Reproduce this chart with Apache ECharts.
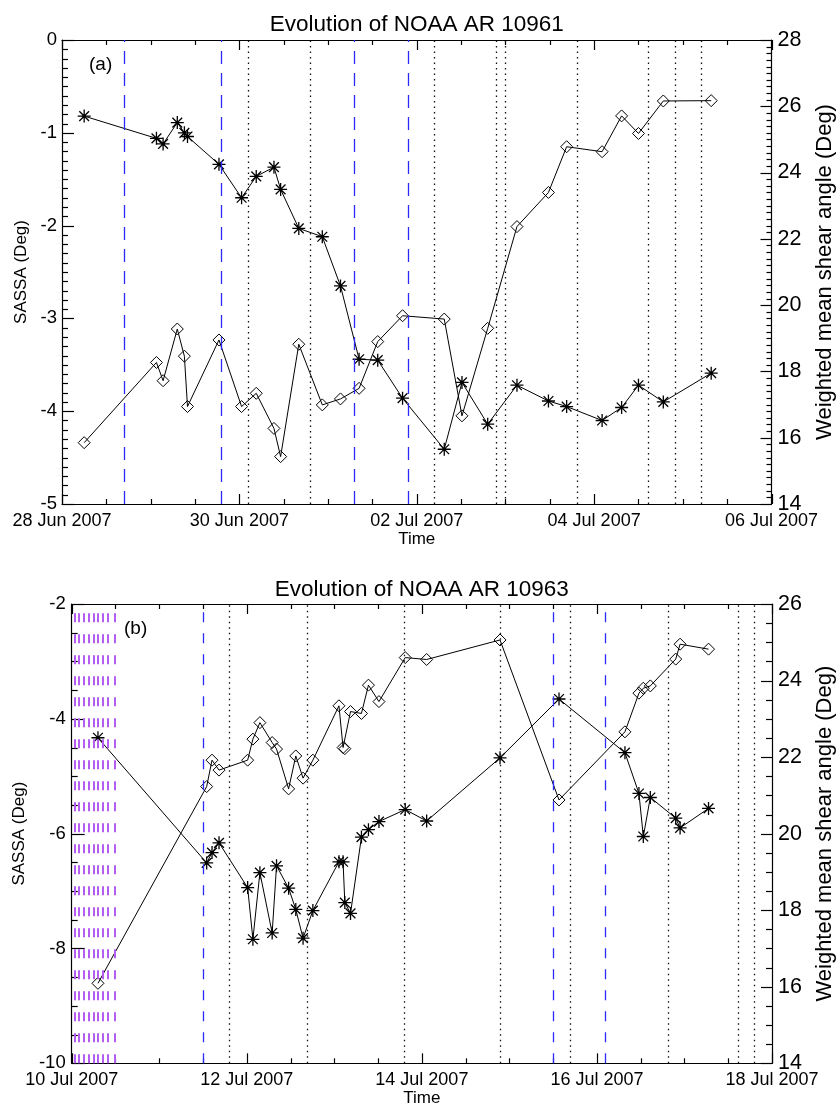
<!DOCTYPE html>
<html><head><meta charset="utf-8">
<script src="https://cdn.jsdelivr.net/npm/echarts@6/dist/echarts.min.js"></script>
<style>html,body{margin:0;padding:0;background:#fff}#c{width:837px;height:1107px}</style>
</head><body><div id="c"></div>
<script>
const FONT = '"Liberation Sans", Arial, Helvetica, sans-serif';

// ---------- Panel (a): NOAA AR 10961 ; time = days since 28 Jun 2007 00:00 UT
const timeA  = [0.25, 1.065, 1.14, 1.30, 1.38, 1.415, 1.77, 2.025, 2.19, 2.39,
                2.465, 2.67, 2.935, 3.14, 3.35, 3.56, 3.84, 4.31, 4.51, 4.80,
                5.13, 5.485, 5.69, 6.09, 6.31, 6.50, 6.78, 7.32];
const sassaA = [-0.82, -1.06, -1.12, -0.89, -1.00, -1.04, -1.34, -1.70, -1.47, -1.37,
                -1.61, -2.03, -2.12, -2.65, -3.44, -3.45, -3.86, -4.41, -3.69, -4.14,
                -3.72, -3.89, -3.95, -4.10, -3.96, -3.72, -3.90, -3.59];
const shearA = [15.85, 18.27, 17.72, 19.28, 18.46, 16.94, 18.95, 16.94, 17.34, 16.28,
                15.43, 18.82, 16.99, 17.17, 17.49, 18.90, 19.68, 19.58, 16.66, 19.30,
                22.37, 23.40, 24.78, 24.63, 25.71, 25.18, 26.16, 26.17];
const blueLinesA   = [0.696, 1.80, 3.30, 3.90];
const dottedLinesA = [2.10, 2.80, 4.20, 4.90, 5.005, 5.806, 6.61, 6.91, 7.21];
const xTicksA = ['28 Jun 2007', '30 Jun 2007', '02 Jul 2007', '04 Jul 2007', '06 Jul 2007'];

// ---------- Panel (b): NOAA AR 10963 ; time = days since 10 Jul 2007 00:00 UT
const timeB  = [0.30, 1.542, 1.603, 1.683, 2.01, 2.07, 2.15, 2.29, 2.34, 2.478,
                2.56, 2.643, 2.755, 3.053, 3.10, 3.12, 3.185, 3.31, 3.39, 3.51,
                3.81, 4.055, 4.893, 5.567, 6.32, 6.48, 6.53, 6.61, 6.90, 6.95, 7.275];
const sassaB = [-4.33, -6.51, -6.33, -6.16, -6.94, -7.84, -6.68, -7.73, -6.56, -6.95,
                -7.32, -7.82, -7.34, -6.49, -6.49, -7.20, -7.39, -6.06, -5.93, -5.79,
                -5.58, -5.78, -4.68, -3.655, -4.59, -5.30, -6.05, -5.37, -5.73, -5.90, -5.56];
const shearB = [16.09, 21.23, 21.92, 21.66, 21.92, 22.47, 22.90, 22.38, 22.21, 21.17,
                22.03, 21.45, 21.92, 23.34, 22.25, 22.22, 23.19, 23.14, 23.88, 23.45,
                24.60, 24.55, 25.06, 20.88, 22.66, 23.67, 23.80, 23.86, 24.56, 24.95, 24.82];
const purpleLinesB = [0.03, 0.083, 0.137, 0.194, 0.247, 0.30, 0.354, 0.41, 0.495];
const blueLinesB   = [1.496, 5.50, 6.104];
const dottedLinesB = [1.797, 2.69, 3.80, 4.90, 5.70, 6.81, 7.61, 7.805];
const xTicksB = ['10 Jul 2007', '12 Jul 2007', '14 Jul 2007', '16 Jul 2007', '18 Jul 2007'];

const titles = ['Evolution of NOAA AR 10961', 'Evolution of NOAA AR 10963'];
const panelTags = ['(a)', '(b)'];

const ASTERISK = 'path://M0,-10L0,10M-10,0L10,0M-7.5,-7.5L7.5,7.5M-7.5,7.5L7.5,-7.5';
const BLACK = '#000';

// axis ranges: [min, max, interval, minorSplit]
const X_RANGE = [0, 8, 2, 4];
const Y_SPECS = [
  { gi: 0, pos: 'left',  range: [-5, 0, 1, 10], name: 'SASSA (Deg)', gap: 32, nameSize: 17, tick: 12, minorLen: 6, labelSize: 18.5, margin: 5 },
  { gi: 0, pos: 'right', range: [14, 28, 2, 10], name: 'Weighted mean shear angle (Deg)', gap: 42, nameSize: 22, tick: 11, minorLen: 5, labelSize: 21.5, margin: 6 },
  { gi: 1, pos: 'left',  range: [-10, -2, 2, 4], name: 'SASSA (Deg)', gap: 40, nameSize: 17, tick: 13, minorLen: 6, labelSize: 18.5, margin: 6 },
  { gi: 1, pos: 'right', range: [14, 26, 2, 4], name: 'Weighted mean shear angle (Deg)', gap: 42, nameSize: 22, tick: 11, minorLen: 6, labelSize: 21.5, margin: 6 }
];

function pairs(t, v) { return t.map((x, i) => [x, v[i]]); }

function xAxisDef(gi, pos, ticks, showLabel) {
  return {
    type: 'value', gridIndex: gi, position: pos, min: X_RANGE[0], max: X_RANGE[1], interval: X_RANGE[2],
    name: showLabel ? 'Time' : '', nameLocation: 'middle', nameGap: 27,
    nameTextStyle: { color: BLACK, fontFamily: FONT, fontSize: 17 },
    axisLine: { show: true, onZero: false, lineStyle: { color: BLACK, width: 1.2 } },
    axisTick: { show: false }, minorTick: { show: false },
    splitLine: { show: false },
    axisLabel: { show: showLabel, color: BLACK, fontFamily: FONT, fontSize: 18, margin: 8,
      formatter: v => ticks[Math.round(v / 2)] || '' }
  };
}
function yAxisDef(s) {
  return {
    type: 'value', gridIndex: s.gi, position: s.pos, min: s.range[0], max: s.range[1], interval: s.range[2],
    name: s.name, nameLocation: 'middle', nameRotate: 90, nameGap: s.gap,
    nameTextStyle: { color: BLACK, fontFamily: FONT, fontSize: s.nameSize },
    axisLine: { show: true, onZero: false, lineStyle: { color: BLACK, width: 1.2 } },
    axisTick: { show: false }, minorTick: { show: false },
    splitLine: { show: false },
    axisLabel: { color: BLACK, fontFamily: FONT, fontSize: s.labelSize, margin: s.margin }
  };
}
function vlines(vals, style) {
  return vals.map(v => ({ xAxis: v, lineStyle: style }));
}
const blueStyleA = { color: '#2a2aff', width: 1.3, type: [13, 9] };
const blueStyleB = { color: '#2a2aff', width: 1.3, type: [10, 11] };
const dotStyle   = { color: '#111', width: 1.3, type: [1.5, 4] };
const purpleStyle = { color: '#b35ef0', width: 2, type: [9, 12] };

function dataSeries(xi, yi, t, v, kind, marks) {
  const s = {
    type: 'line', xAxisIndex: xi, yAxisIndex: yi, data: pairs(t, v),
    symbol: kind === 'star' ? ASTERISK : 'diamond',
    symbolSize: kind === 'star' ? 13 : 12,
    showAllSymbol: true, silent: true,
    lineStyle: { color: BLACK, width: 1 },
    itemStyle: { color: 'transparent', borderColor: BLACK, borderWidth: kind === 'star' ? 1.3 : 1 },
    z: 3
  };
  if (marks) {
    s.markLine = { symbol: ['none', 'none'], silent: true, label: { show: false }, data: marks };
  }
  return s;
}

// ---- inward tick marks (major + minor), placed through the axes' own scales
function tickValues(r) {
  const out = [];
  for (let k = 0; r[0] + k * r[2] <= r[1] + 1e-9; k++) {
    const v = r[0] + k * r[2];
    out.push({ v, major: true });
    if (v + r[2] <= r[1] + 1e-9) for (let j = 1; j < r[3]; j++) out.push({ v: v + j * r[2] / r[3], major: false });
  }
  return out;
}
function tickSeries(xi, yi, rows) {
  return {
    type: 'custom', xAxisIndex: xi, yAxisIndex: yi, silent: true, clip: false, z: 4,
    animation: false,
    dimensions: ['x', 'y', 'dx', 'dy', 'len'], encode: { x: 0, y: 1 },
    data: rows,
    renderItem: (params, api) => {
      const p = api.coord([api.value(0), api.value(1)]);
      const dx = api.value(2), dy = api.value(3), L = api.value(4);
      let x = p[0], y = p[1];
      if (dx === 0) x = Math.round(x) + 0.5; else y = Math.round(y) + 0.5;
      return { type: 'line', silent: true,
        shape: { x1: x, y1: y, x2: x + dx * L, y2: y + dy * L },
        style: { stroke: BLACK, lineWidth: 1.2, fill: null } };
    }
  };
}
const ticksAll = [];
[0, 1].forEach(gi => {
  const yl = Y_SPECS[gi * 2], yr = Y_SPECS[gi * 2 + 1];
  const xi = gi * 2;
  const rowsX = [];
  tickValues(X_RANGE).forEach(t => {
    rowsX.push([t.v, yl.range[0], 0, -1, t.major ? 10 : 5]);
    rowsX.push([t.v, yl.range[1], 0, 1, t.major ? 10 : 5]);
  });
  ticksAll.push(tickSeries(xi, gi * 2, rowsX));
  ticksAll.push(tickSeries(xi, gi * 2, tickValues(yl.range).map(t => [X_RANGE[0], t.v, 1, 0, t.major ? yl.tick : yl.minorLen])));
  ticksAll.push(tickSeries(xi, gi * 2 + 1, tickValues(yr.range).map(t => [X_RANGE[1], t.v, -1, 0, t.major ? yr.tick : yr.minorLen])));
});

const option = {
  animation: false,
  title: [
    { text: titles[0], left: 416.8, top: 13, textAlign: 'center', padding: 0,
      textStyle: { color: BLACK, fontFamily: FONT, fontSize: 22.5, fontWeight: 'normal' } },
    { text: titles[1], left: 421.8, top: 578, textAlign: 'center', padding: 0,
      textStyle: { color: BLACK, fontFamily: FONT, fontSize: 22.5, fontWeight: 'normal' } },
    { text: panelTags[0], left: 89, top: 55, padding: 0,
      textStyle: { color: BLACK, fontFamily: FONT, fontSize: 19, fontWeight: 'normal' } },
    { text: panelTags[1], left: 124, top: 619, padding: 0,
      textStyle: { color: BLACK, fontFamily: FONT, fontSize: 19, fontWeight: 'normal' } }
  ],
  grid: [
    { left: 62, top: 40, width: 709.5, height: 464, outerBoundsMode: 'none' },
    { left: 71.7, top: 604, width: 700.3, height: 459.3, outerBoundsMode: 'none' }
  ],
  xAxis: [
    xAxisDef(0, 'bottom', xTicksA, true),
    xAxisDef(0, 'top', xTicksA, false),
    xAxisDef(1, 'bottom', xTicksB, true),
    xAxisDef(1, 'top', xTicksB, false)
  ],
  yAxis: Y_SPECS.map(yAxisDef),
  series: [
    dataSeries(0, 0, timeA, sassaA, 'star',
      vlines(blueLinesA, blueStyleA).concat(vlines(dottedLinesA, dotStyle))),
    dataSeries(0, 1, timeA, shearA, 'diamond'),
    dataSeries(2, 2, timeB, sassaB, 'star',
      vlines(purpleLinesB, purpleStyle).concat(vlines(blueLinesB, blueStyleB), vlines(dottedLinesB, dotStyle))),
    dataSeries(2, 3, timeB, shearB, 'diamond')
  ].concat(ticksAll)
};

const chart = echarts.init(document.getElementById('c'));
chart.setOption(option);
</script>
</body></html>
